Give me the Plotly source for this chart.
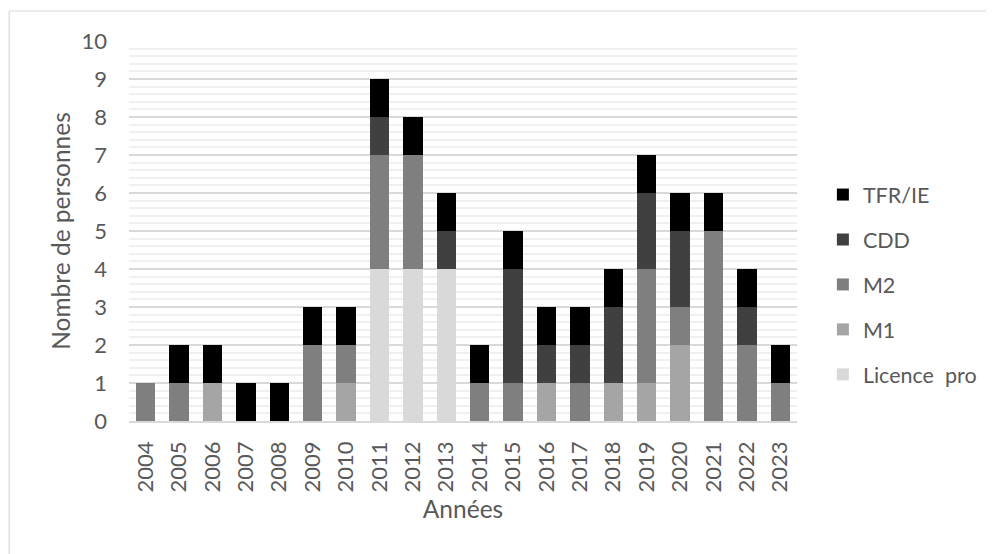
import plotly.graph_objects as go

years = [str(y) for y in range(2004, 2024)]
licence_pro = [0, 0, 0, 0, 0, 0, 0, 4, 4, 4, 0, 0, 0, 0, 0, 0, 0, 0, 0, 0]
m1 =          [0, 0, 1, 0, 0, 0, 1, 0, 0, 0, 0, 0, 1, 0, 1, 1, 2, 0, 0, 0]
m2 =          [1, 1, 0, 0, 0, 2, 1, 3, 3, 0, 1, 1, 0, 1, 0, 3, 1, 5, 2, 1]
cdd =         [0, 0, 0, 0, 0, 0, 0, 1, 0, 1, 0, 3, 1, 1, 2, 2, 2, 0, 1, 0]
tfr_ie =      [0, 1, 1, 1, 1, 1, 1, 1, 1, 1, 1, 1, 1, 1, 1, 1, 1, 1, 1, 1]

series = [
    ("Licence  pro", licence_pro, "#d9d9d9", 5),
    ("M1", m1, "#a5a5a5", 4),
    ("M2", m2, "#7f7f7f", 3),
    ("CDD", cdd, "#404040", 2),
    ("TFR/IE", tfr_ie, "#000000", 1),
]

FONT = "Lato, 'Open Sans', sans-serif"
TXT = "#595959"

# figure is drawn inside the page body, which has an 8px margin
W, H = 986, 546
L, R, T, B = 121, 194, 33, 133
PW, PH = W - L - R, H - T - B

fig = go.Figure()
for name, vals, col, rank in series:
    fig.add_trace(go.Bar(
        x=years, y=vals, name=name, legendgroup=name, legendrank=rank,
        marker=dict(color=col, line=dict(width=0)),
        width=0.58,
    ))

def px(xp):
    return (xp - L) / PW

def py(yp):
    return (H - B - yp) / PH

fig.update_layout(
    barmode="stack",
    width=W, height=H,
    margin=dict(l=L, r=R, t=T, b=B),
    paper_bgcolor="white", plot_bgcolor="white",
    font=dict(family=FONT, size=21, color=TXT),
    showlegend=True,
    legend=dict(
        x=px(818), xanchor="left", y=0.359, yanchor="middle",
        traceorder="grouped", tracegroupgap=14,
        font=dict(family=FONT, size=21.5, color=TXT),
        bgcolor="rgba(0,0,0,0)",
    ),
    xaxis=dict(
        type="category", tickangle=-90, showgrid=False,
        showline=True, linecolor="#d9d9d9", linewidth=1.5,
        ticks="", ticklabelstandoff=10,
        tickfont=dict(family=FONT, size=22, color=TXT),
        title=dict(text="Années", standoff=9, font=dict(family=FONT, size=24.5, color=TXT)),
    ),
    yaxis=dict(
        range=[0, 10], dtick=1, tick0=0,
        showgrid=True, gridcolor="#d9d9d9", gridwidth=1.5,
        minor=dict(dtick=0.2, showgrid=True, gridcolor="#f0f0f0", gridwidth=1.5),
        zeroline=False, showline=False, ticks="", ticklabelstandoff=21,
        tickfont=dict(family=FONT, size=22, color=TXT),
        title=dict(text="Nombre de personnes", standoff=3, font=dict(family=FONT, size=24.5, color=TXT)),
    ),
    shapes=[
        dict(type="line", xref="paper", yref="paper",
             x0=px(0.6), x1=px(0.6), y0=py(H + 20), y1=py(3),
             line=dict(color="#d9d9d9", width=1.2), layer="below"),
        dict(type="line", xref="paper", yref="paper",
             x0=px(0.6), x1=px(W + 20), y0=py(3), y1=py(3),
             line=dict(color="#d9d9d9", width=1.2), layer="below"),
    ],
)

fig.write_html("out.html")
